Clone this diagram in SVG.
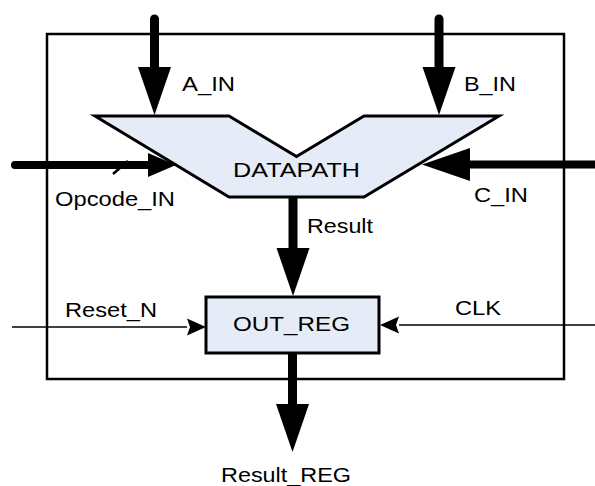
<svg xmlns="http://www.w3.org/2000/svg" width="595" height="486" viewBox="0 0 595 486">
  <style>
    .lbl { font-family: "Liberation Sans", Arial, sans-serif; font-size: 21px; fill: #000; }
    .bus { stroke: #000; fill: none; stroke-linecap: round; }
    .sig { stroke: #000; fill: none; stroke-width: 1.5; }
    .block { fill: #E6ECF7; stroke: #000; stroke-width: 3; stroke-linejoin: miter; }
  </style>
  <defs>
    <marker id="busHead" markerUnits="userSpaceOnUse" orient="auto" refX="0" refY="0" markerWidth="48" markerHeight="34" overflow="visible">
      <path d="M0,-16.5 L48,0 L0,16.5 Z" fill="#000"/>
    </marker>
    <marker id="sigHead" markerUnits="userSpaceOnUse" orient="auto" refX="0" refY="0" markerWidth="19" markerHeight="17" overflow="visible">
      <path d="M0,-8.5 L19,0 L0,8.5 L3,0 Z" fill="#000"/>
    </marker>
  </defs>

  <!-- enclosing module boundary -->
  <rect id="module" x="47" y="34" width="517" height="345" fill="none" stroke="#000" stroke-width="2.5"/>

  <g id="connectors">
    <!-- A_IN bus -->
    <line class="bus" x1="154.5" y1="19" x2="154.5" y2="67" stroke-width="9" marker-end="url(#busHead)"/>
    <!-- B_IN bus -->
    <line class="bus" x1="439" y1="19" x2="439" y2="67" stroke-width="9" marker-end="url(#busHead)"/>
    <!-- Opcode_IN bus with width slash -->
    <line class="bus" x1="15" y1="165" x2="148" y2="165" stroke-width="8"/>
    <polygon points="148,153 148,177 176,165" fill="#000"/>
    <line x1="113" y1="174" x2="128" y2="161" stroke="#000" stroke-width="2.5"/>
    <!-- C_IN bus -->
    <line x1="600" y1="164.5" x2="470" y2="164.5" stroke="#000" stroke-width="8" marker-end="url(#busHead)"/>
    <!-- Result: DATAPATH -> OUT_REG -->
    <line class="bus" x1="293" y1="199" x2="293" y2="248" stroke-width="9" marker-end="url(#busHead)"/>
    <!-- Result_REG output -->
    <line x1="292.5" y1="353" x2="292.5" y2="404" stroke="#000" stroke-width="9" marker-end="url(#busHead)"/>
    <!-- Reset_N -->
    <line class="sig" x1="12" y1="327" x2="187" y2="327" marker-end="url(#sigHead)"/>
    <!-- CLK -->
    <line class="sig" x1="595" y1="325" x2="399" y2="325" marker-end="url(#sigHead)"/>
  </g>

  <g id="datapath">
    <polygon class="block" points="95,116 229,116 296.5,156.5 364,116 499,116 364,197 229,197"/>
    <text class="lbl" x="233" y="177" textLength="127" lengthAdjust="spacingAndGlyphs">DATAPATH</text>
  </g>

  <g id="out_reg">
    <rect class="block" x="206" y="297" width="173" height="56"/>
    <text class="lbl" x="233" y="331" textLength="117" lengthAdjust="spacingAndGlyphs">OUT_REG</text>
  </g>

  <g id="labels">
    <text class="lbl" x="182" y="90.5" textLength="53" lengthAdjust="spacingAndGlyphs">A_IN</text>
    <text class="lbl" x="464" y="90.5" textLength="52" lengthAdjust="spacingAndGlyphs">B_IN</text>
    <text class="lbl" x="55" y="205.5" textLength="120" lengthAdjust="spacingAndGlyphs">Opcode_IN</text>
    <text class="lbl" x="474" y="201.5" textLength="54" lengthAdjust="spacingAndGlyphs">C_IN</text>
    <text class="lbl" x="307" y="233" textLength="66" lengthAdjust="spacingAndGlyphs">Result</text>
    <text class="lbl" x="65" y="317" textLength="92" lengthAdjust="spacingAndGlyphs">Reset_N</text>
    <text class="lbl" x="455" y="315" textLength="46" lengthAdjust="spacingAndGlyphs">CLK</text>
    <text class="lbl" x="221" y="482" textLength="130" lengthAdjust="spacingAndGlyphs">Result_REG</text>
  </g>
</svg>
